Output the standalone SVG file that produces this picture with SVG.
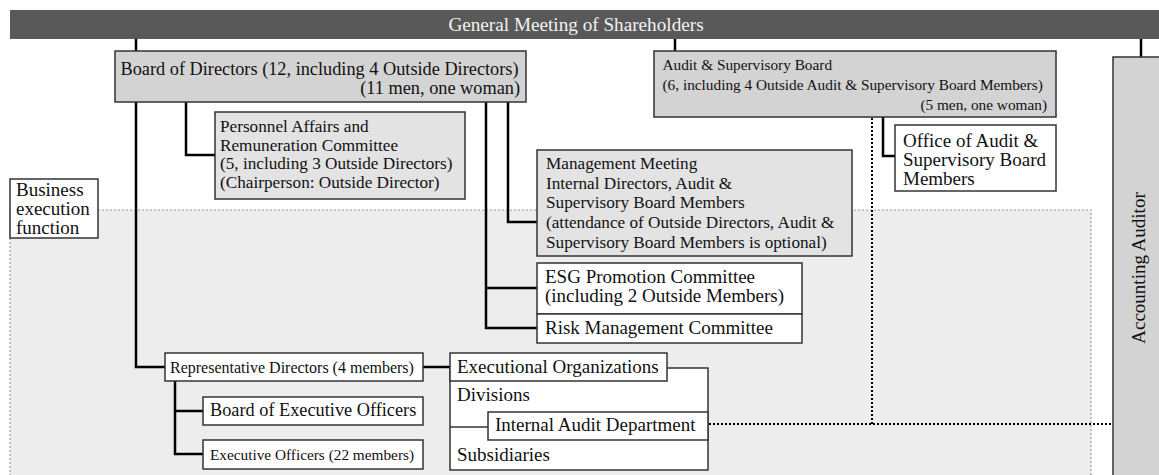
<svg xmlns="http://www.w3.org/2000/svg" width="1159" height="475" viewBox="0 0 1159 475" font-family="'Liberation Serif', 'Times New Roman', 'DejaVu Serif', serif">
<style>
text{font-family:'Liberation Serif','Times New Roman','DejaVu Serif',serif;font-size:19px;fill:#111}
.box{stroke:#333;stroke-width:1.5}
.g1{fill:#d3d3d3}
.g2{fill:#e3e3e3}
.w{fill:#fff}
.con{fill:none;stroke:#000;stroke-width:2.5}
.dot{fill:none;stroke:#000;stroke-width:2;stroke-dasharray:2 2}
.f17{font-size:17.2px}
.f18{font-size:18.3px}
.f15{font-size:15.3px}
</style>
<rect width="1159" height="475" fill="#fff"/>
<g id="region">
<rect x="10" y="210" width="1081" height="280" fill="#ededed" stroke="#999" stroke-width="1.2" stroke-dasharray="2 2"/>
</g>
<g id="gm">
<rect x="10" y="10" width="1160" height="29" fill="#595959"/>
<text x="576" y="31" text-anchor="middle" style="fill:#f2f2f2;font-size:19.2px">General Meeting of Shareholders</text>
</g>
<g id="connectors">
<path class="con" d="M136 39V51"/>
<path class="con" d="M675 39V51"/>
<path class="con" d="M1141 39V57"/>
<path class="con" d="M186 102V155H215"/>
<path class="con" d="M508 102V222H537"/>
<path class="con" d="M486 102V328H537M486 288H537"/>
<path class="con" d="M136 102V367H165"/>
<path class="con" d="M423 367H450"/>
<path class="con" d="M175 381V454H203M175 411H203"/>
<path class="con" d="M883 117V156H895"/>
<path class="dot" d="M872 118V424"/>
<path class="dot" d="M709 424H1113"/>
</g>
<g id="business">
<rect class="box w" x="10" y="179" width="88" height="59"/>
<text x="16" y="195.5">Business</text>
<text x="16" y="214.5">execution</text>
<text x="16" y="233.5">function</text>
</g>
<g id="bod">
<rect class="box g1" x="115" y="51" width="411" height="51"/>
<text class="f18" x="120.5" y="74.5">Board of Directors (12, including 4 Outside Directors)</text>
<text class="f18" x="520" y="94" text-anchor="end">(11 men, one woman)</text>
</g>
<g id="parc">
<rect class="box g2" x="215" y="112" width="250" height="87"/>
<text class="f17" x="220" y="131.5">Personnel Affairs and</text>
<text class="f17" x="220" y="150.5">Remuneration Committee</text>
<text class="f17" x="220" y="169">(5, including 3 Outside Directors)</text>
<text class="f17" x="220" y="188">(Chairperson: Outside Director)</text>
</g>
<g id="asb">
<rect class="box g1" x="654" y="51" width="402" height="66"/>
<text class="f15" x="662.5" y="70">Audit &amp; Supervisory Board</text>
<text class="f15" x="662.5" y="90">(6, including 4 Outside Audit &amp; Supervisory Board Members)</text>
<text class="f15" x="1047" y="110" text-anchor="end">(5 men, one woman)</text>
</g>
<g id="office">
<rect class="box w" x="895" y="125" width="161" height="66"/>
<text x="903" y="146.5">Office of Audit &amp;</text>
<text x="903" y="165.5">Supervisory Board</text>
<text x="903" y="184.5">Members</text>
</g>
<g id="accounting">
<rect class="box g1" x="1113" y="57" width="60" height="430"/>
<text x="1144.5" y="268" text-anchor="middle" transform="rotate(-90 1144.5 268)">Accounting Auditor</text>
</g>
<g id="mm">
<rect class="box g2" x="537" y="150" width="315" height="106"/>
<text class="f17" x="546" y="168.5">Management Meeting</text>
<text class="f17" x="546" y="188.5">Internal Directors, Audit &amp;</text>
<text class="f17" x="546" y="208">Supervisory Board Members</text>
<text class="f17" x="546" y="228">(attendance of Outside Directors, Audit &amp;</text>
<text class="f17" x="546" y="247.5">Supervisory Board Members is optional)</text>
</g>
<g id="esg">
<rect class="box w" x="537" y="263" width="265" height="51"/>
<text x="545" y="283">ESG Promotion Committee</text>
<text x="545" y="302">(including 2 Outside Members)</text>
</g>
<g id="risk">
<rect class="box w" x="537" y="314" width="265" height="29"/>
<text x="545" y="333.5">Risk Management Committee</text>
</g>
<g id="repdir">
<rect class="box w" x="165" y="353" width="258" height="28"/>
<text x="170" y="372.5" style="font-size:16px">Representative Directors (4 members)</text>
</g>
<g id="beo">
<rect class="box w" x="203" y="397" width="220" height="28"/>
<text class="f18" x="210" y="416">Board of Executive Officers</text>
</g>
<g id="eo">
<rect class="box w" x="203" y="440" width="220" height="29"/>
<text class="f15" x="210" y="460">Executive Officers (22 members)</text>
</g>
<g id="execorg">
<rect class="box w" x="450" y="368" width="258" height="102"/>
<rect class="box w" x="450" y="353" width="217" height="28"/>
<text x="457" y="372.5">Executional Organizations</text>
<text x="457" y="401">Divisions</text>
<path d="M450 427H488" stroke="#333" stroke-width="1.5"/>
<rect class="box w" x="488" y="412" width="220" height="28"/>
<text x="495" y="430.5">Internal Audit Department</text>
<text x="457" y="460.5">Subsidiaries</text>
</g>
</svg>
